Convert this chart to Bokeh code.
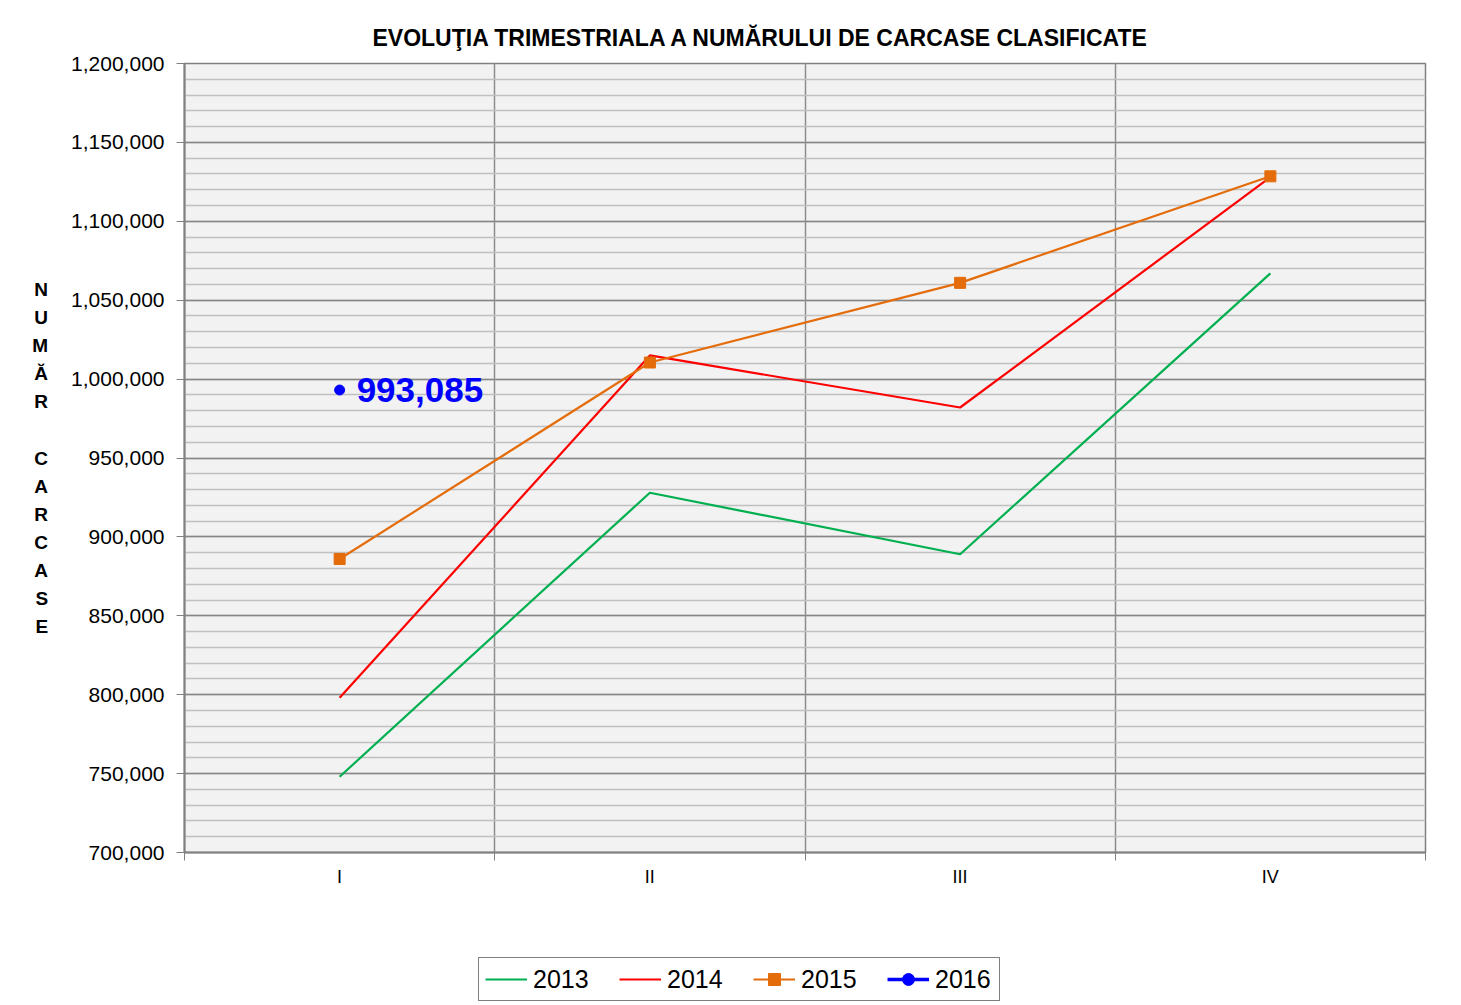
import numpy as np
from bokeh.plotting import figure
from bokeh.layouts import column
from bokeh.models import (Range1d, SingleIntervalTicker, FixedTicker, NumeralTickFormatter,
                          Legend, LegendItem, ColumnDataSource)
from bokeh.core.properties import value
from bokeh.embed import file_html
from bokeh.resources import INLINE

quarters = ["I", "II", "III", "IV"]
y2013 = [748000, 928000, 889000, 1067000]
y2014 = [798000, 1015000, 982000, 1128000]
y2015 = [886000, 1010500, 1061000, 1128500]
y2016 = [993085]
years = ["2013", "2014", "2015", "2016"]

FONT = "Liberation Sans"
xs = np.arange(len(quarters)) + 0.5

W = 1453
p = figure(width=W, height=905, output_backend="svg", toolbar_location=None,
           x_range=Range1d(0, len(quarters)), y_range=Range1d(700000, 1200000),
           min_border_left=184, min_border_right=28, min_border_top=63, min_border_bottom=53)

p.background_fill_color = "#f2f2f2"
p.border_fill_color = "white"
p.outline_line_color = "#808080"
p.outline_line_width = 1.5

# title
p.title.text = "EVOLUŢIA TRIMESTRIALA  A NUMĂRULUI DE CARCASE CLASIFICATE"
p.title.text_font = FONT
p.title.text_font_style = "bold"
p.title.text_font_size = "23px"
p.title.text_color = "black"
p.title.align = "left"
p.title.offset = 188
p.title.standoff = 25

# y axis
p.yaxis.ticker = SingleIntervalTicker(interval=50000, num_minor_ticks=5)
p.yaxis.formatter = NumeralTickFormatter(format="0,0")
p.yaxis.major_label_text_font = FONT
p.yaxis.major_label_text_font_size = "21px"
p.yaxis.major_label_text_color = "black"
p.yaxis.major_tick_out = 8
p.yaxis.major_tick_in = 0
p.yaxis.minor_tick_out = 0
p.yaxis.minor_tick_in = 0
p.yaxis.major_tick_line_color = "#808080"
p.yaxis.axis_line_color = "#808080"
p.yaxis.axis_line_width = 2
p.yaxis.major_label_standoff = 12
p.yaxis.axis_label = "N\nU\nM\nĂ\nR\n \nC\nA\nR\nC\nA\nS\nE"
p.yaxis.axis_label_orientation = "horizontal"
p.yaxis.axis_label_text_font = FONT
p.yaxis.axis_label_text_font_style = "bold"
p.yaxis.axis_label_text_font_size = "19px"
p.yaxis.axis_label_text_color = "black"
p.yaxis.axis_label_text_line_height = 1.34
p.yaxis.axis_label_standoff = 20

p.ygrid.grid_line_color = "#868686"
p.ygrid.grid_line_width = 1.5
p.ygrid.minor_grid_line_color = "#c0c0c0"
p.ygrid.minor_grid_line_width = 1.5

# x axis
p.xaxis.ticker = FixedTicker(ticks=list(xs), minor_ticks=list(range(len(quarters) + 1)))
p.xaxis.major_label_overrides = {float(x): q for x, q in zip(xs, quarters)}
p.xaxis.major_label_text_font = FONT
p.xaxis.major_label_text_font_size = "18px"
p.xaxis.major_label_text_color = "black"
p.xaxis.major_tick_out = 0
p.xaxis.major_tick_in = 0
p.xaxis.minor_tick_out = 8
p.xaxis.minor_tick_in = 0
p.xaxis.minor_tick_line_color = "#808080"
p.xaxis.axis_line_color = "#808080"
p.xaxis.axis_line_width = 2
p.xaxis.major_label_standoff = 6

p.xgrid.ticker = FixedTicker(ticks=list(range(1, len(quarters))))
p.xgrid.grid_line_color = "#8c8c8c"
p.xgrid.grid_line_width = 1.5

# series styles
line_styles = [
    dict(line_color="#00b050", line_width=2.2),
    dict(line_color="#ff0000", line_width=2.2),
    dict(line_color="#e46c0a", line_width=2.2),
    dict(line_color="#0000ff", line_width=3.5),
]
marker_styles = [
    None,
    None,
    dict(marker="square", size=11, fill_color="#e46c0a", line_color="#e46c0a"),
    dict(marker="circle", size=10, fill_color="#0000ff", line_color="#0000ff"),
]
series = [y2013, y2014, y2015, y2016]

for vals, ls, ms in zip(series, line_styles, marker_styles):
    xx = xs[:len(vals)]
    p.line(xx, vals, **ls)
    if ms:
        p.scatter(xx, vals, **ms)

x16 = xs[:len(y2016)]
lbl = ColumnDataSource(dict(x=x16, y=y2016, t=[f"{v:,}" for v in y2016]))
p.text(x="x", y="y", text="t", source=lbl, x_offset=17, text_baseline="middle",
       text_font=value(FONT), text_font_style="bold", text_font_size="35px", text_color="#0000ff")

# legend strip below (its renderers hold the same series but fall outside its view)
p2 = figure(width=W, height=98, output_backend="svg", toolbar_location=None,
            x_range=Range1d(0, 1), y_range=Range1d(0, 1), x_axis_type=None, y_axis_type=None,
            min_border_left=184, min_border_right=28, min_border_top=0, min_border_bottom=0)
p2.outline_line_color = None
p2.grid.visible = False
p2.background_fill_color = "white"
p2.border_fill_color = "white"

items = []
for yr, vals, ls, ms in zip(years, series, line_styles, marker_styles):
    xx = xs[:len(vals)]
    rs = [p2.line(xx, vals, **ls)]
    if ms:
        rs.append(p2.scatter(xx, vals, **ms))
    items.append(LegendItem(label=yr, renderers=rs))

legend = Legend(items=items, orientation="horizontal", location=(294, 2))
legend.label_text_font = FONT
legend.label_text_font_size = "25px"
legend.label_text_color = "black"
legend.glyph_width = 42
legend.glyph_height = 30
legend.label_standoff = 6
legend.label_width = 58
legend.spacing = 28
legend.padding = 6
legend.margin = 0
legend.border_line_color = "black"
legend.border_line_width = 1
legend.background_fill_color = "white"
legend.background_fill_alpha = 1
legend.label_height = 25
p2.add_layout(legend, "center")

open("out.html", "w").write(file_html(column(p, p2, spacing=0), INLINE))
